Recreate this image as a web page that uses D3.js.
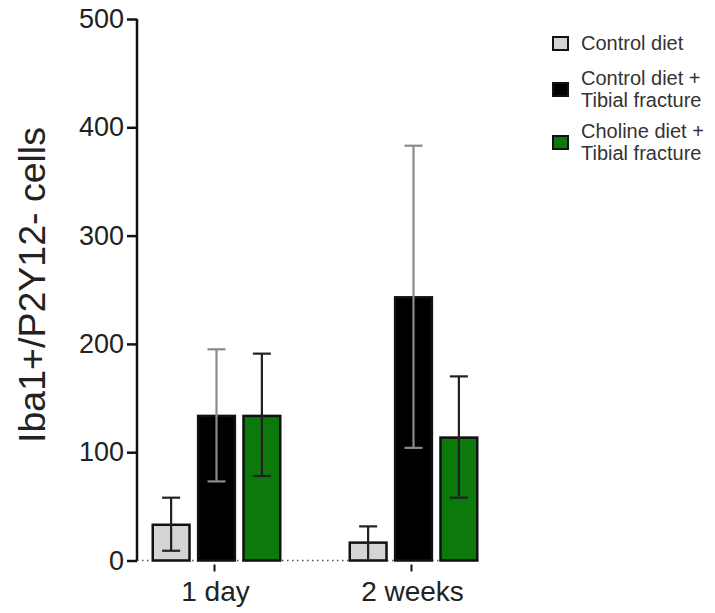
<!DOCTYPE html>
<html><head><meta charset="utf-8">
<script src="https://cdn.jsdelivr.net/npm/d3@7"></script>
<style>body{margin:0;background:#fff}svg{display:block}text{font-family:"Liberation Sans",Arial,sans-serif}</style>
</head><body>
<svg id="c" width="715" height="613"></svg>
<script>
const groups = ["1 day", "2 weeks"];
const series = ["Control diet", "Control diet + Tibial fracture", "Choline diet + Tibial fracture"];
const legendLines = [["Control diet"], ["Control diet +", "Tibial fracture"], ["Choline diet +", "Tibial fracture"]];
const means = [[33, 133.5, 133.5], [16.5, 243, 113.5]];
const upper = [[58, 195, 191], [31.5, 383, 170]];
const lower = [[9, 73, 78], [1, 104, 58]];
const yTicks = [0, 100, 200, 300, 400, 500];
const fills = ["#d4d4d4", "#000000", "#0b7a0b"];
const errColors = ["#222", "#8a8a8a", "#222"];

const svg = d3.select("#c");
const y = d3.scaleLinear().domain([0, 500]).range([560.5, 19]);
const x0 = d3.scaleBand().domain(groups).range([118, 512]);
const x1 = d3.scaleBand().domain(series).range([-63.75, 63.75]).paddingInner(0.19);

// baseline dotted
svg.append("line").attr("x1", 137).attr("x2", 482).attr("y1", y(0)).attr("y2", y(0))
  .attr("stroke", "#555").attr("stroke-width", 1.5).attr("stroke-dasharray", "1.5,3.5");

// y axis
const ya = svg.append("g").attr("transform", "translate(137,0)")
  .call(d3.axisLeft(y).tickValues(yTicks).tickSize(10).tickPadding(3));
ya.select(".domain").attr("stroke", "#111").attr("stroke-width", 2.5).attr("d", `M0,${y(500)}V${y(0)}`);
ya.selectAll(".tick line").attr("stroke", "#111").attr("stroke-width", 2.5);
ya.selectAll(".tick text").attr("font-size", 27).attr("fill", "#222").attr("font-family", "Liberation Sans, Arial, sans-serif");

// x ticks & labels
groups.forEach(g => {
  const cx = x0(g) + x0.bandwidth() / 2;
  svg.append("line").attr("x1", cx - 2).attr("x2", cx - 2).attr("y1", y(0) + 4).attr("y2", y(0) + 11)
    .attr("stroke", "#111").attr("stroke-width", 2);
  svg.append("text").attr("x", cx - 1).attr("y", 601).attr("text-anchor", "middle")
    .attr("font-size", 28).attr("fill", "#222").text(g);
});

// bars
groups.forEach((g, gi) => {
  const cx = x0(g) + x0.bandwidth() / 2;
  series.forEach((s, si) => {
    const bx = cx + x1(s);
    const bw = x1.bandwidth();
    svg.append("rect").attr("x", bx).attr("y", y(means[gi][si]))
      .attr("width", bw).attr("height", y(0) - y(means[gi][si]))
      .attr("fill", fills[si]).attr("stroke", "#111").attr("stroke-width", 2.5);
    const ex = bx + bw / 2;
    const e = svg.append("g").attr("stroke", errColors[si]).attr("stroke-width", 2.2);
    e.append("line").attr("x1", ex).attr("x2", ex).attr("y1", y(upper[gi][si])).attr("y2", y(lower[gi][si]));
    e.append("line").attr("x1", ex - 9).attr("x2", ex + 9).attr("y1", y(upper[gi][si])).attr("y2", y(upper[gi][si]));
    if (lower[gi][si] > 3)
      e.append("line").attr("x1", ex - 9).attr("x2", ex + 9).attr("y1", y(lower[gi][si])).attr("y2", y(lower[gi][si]));
  });
});

// y label
svg.append("text").attr("transform", "translate(45,285) rotate(-90)").attr("text-anchor", "middle")
  .attr("font-size", 37.5).attr("fill", "#222").text("Iba1+/P2Y12- cells");

// legend
const legY = [43, 89, 142];
series.forEach((s, i) => {
  svg.append("rect").attr("x", 553).attr("y", legY[i] - 6).attr("width", 15).attr("height", 13)
    .attr("fill", fills[i]).attr("stroke", "#111").attr("stroke-width", 2);
  const lines = legendLines[i];
  lines.forEach((t, li) => {
    const off = lines.length === 1 ? 0 : (li === 0 ? -11 : 11);
    svg.append("text").attr("x", 581).attr("y", legY[i] + off).attr("dy", "0.35em")
      .attr("font-size", 20).attr("fill", "#333").text(t);
  });
});
</script>
</body></html>
